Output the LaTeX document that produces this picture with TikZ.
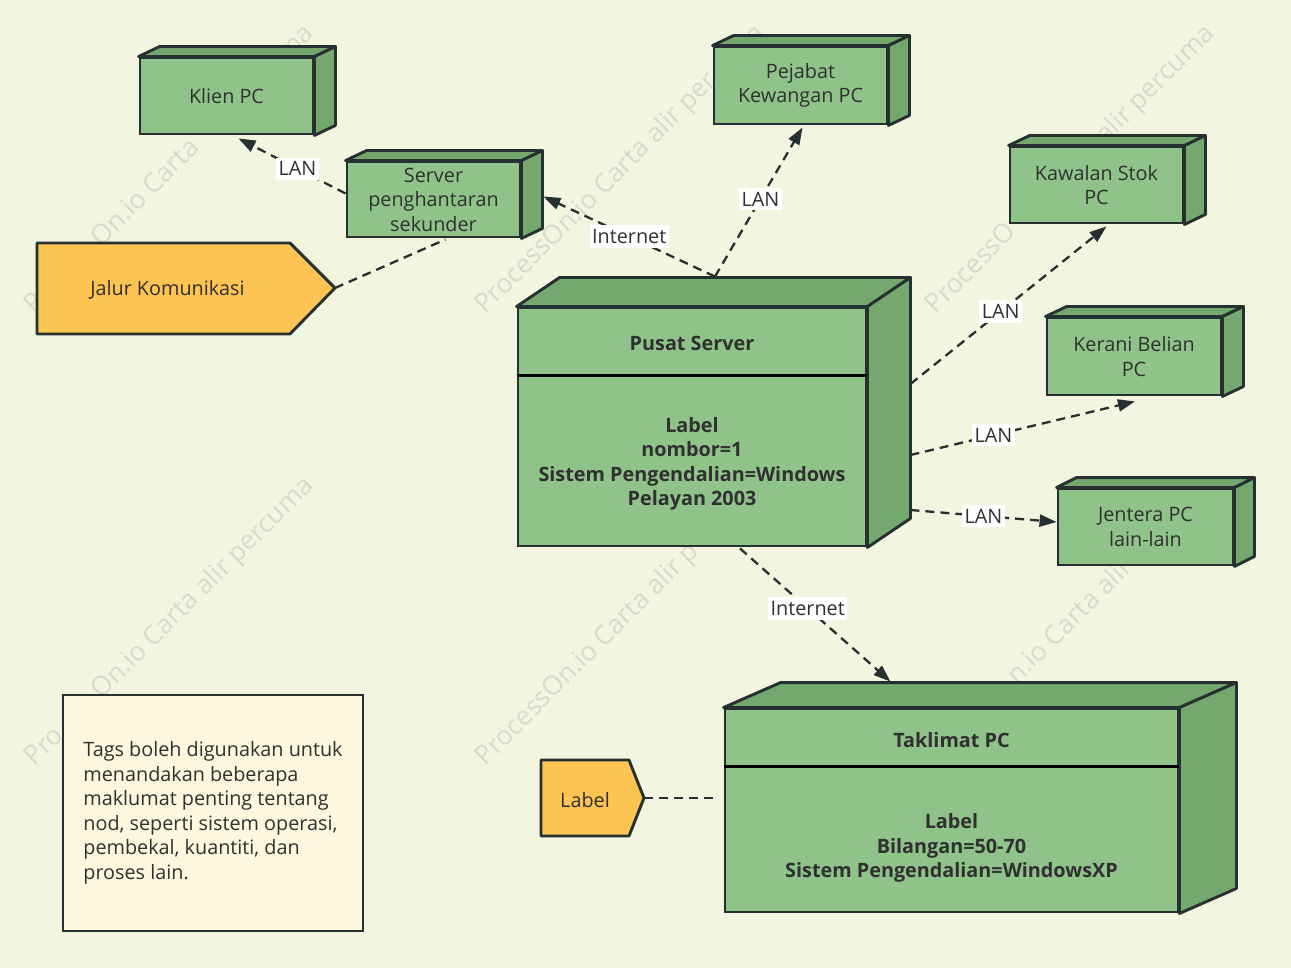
\documentclass[tikz,border=0pt]{standalone}
\usepackage{fontspec}
\setmainfont{Open Sans}
\usetikzlibrary{arrows.meta,calc}
\definecolor{bg}{RGB}{242,245,223}
\definecolor{gfront}{RGB}{143,195,137}
\definecolor{gside}{RGB}{116,168,110}
\definecolor{stroke}{RGB}{38,48,48}
\definecolor{txt}{RGB}{48,48,48}
\definecolor{tagfill}{RGB}{253,196,84}
\definecolor{notefill}{RGB}{253,248,221}
\definecolor{wm}{RGB}{216,218,206}
\newcommand\fs{\fontsize{9.9}{12.25}\selectfont}
\newcommand\cubeside[3]{%
  \filldraw[side] (#1.north west) -- ++(#2,#3) -- ($(#1.north east)+(#2,#3)$) -- (#1.north east) -- cycle;
  \filldraw[side] (#1.north east) -- ++(#2,#3) -- ($(#1.south east)+(#2,#3)$) -- (#1.south east) -- cycle;}
\tikzset{
  box/.style={draw=stroke, fill=gfront, line width=1.45pt, inner sep=0pt, align=center, font=\fs, text=txt},
  side/.style={draw=stroke, fill=gside, line width=1.45pt, line join=round},
  conn/.style={draw=stroke, line width=1.15pt, dash pattern=on 4.5pt off 3pt},
  arr/.style={-{Triangle[length=8.5pt,width=6pt]}},
  elab/.style={fill=white, inner xsep=1.2pt, inner ysep=2pt, font=\fs, text=txt},
  tagshape/.style={draw=stroke, fill=tagfill, line width=1.45pt, line join=round},
  wmark/.style={rotate=45, text=wm, font=\fontsize{13.2}{15}\selectfont},
  bodytext/.style={align=center, font=\fs\bfseries, text=txt, inner sep=0pt},
}
\begin{document}
\begin{tikzpicture}[x=0.5pt,y=-0.5pt]
\useasboundingbox (0,0) rectangle (1291,968);
\fill[bg] (0,0) rectangle (1291,968);
\clip (0,0) rectangle (1291,968);
% watermarks (parts hidden behind shapes are left out)
\node[wmark] (wmA) at (170,170) {P\phantom{rocess}On.io Carta \phantom{alir perc}uma};
\node[wmark] (wmB) at (621,170) {ProcessOn.io Carta alir per\phantom{cum}a};
\node[wmark] (wmC) at (1071,170) {ProcessO\phantom{n.io Carta }alir percuma};
\node[wmark] (wmD) at (170,622) {Pro\phantom{cess}On.io Carta alir percuma};
\node[wmark] (wmE) at (621,622) {ProcessOn.io Carta alir p\phantom{ercuma}};
\node[wmark] (wmF) at (1071,622) {\phantom{ProcessO}n.io Carta alir\phantom{ percuma}};
% small boxes
\node[box, minimum width=86.5pt, minimum height=38pt] (klien) at (226.5,96) {Klien PC};
\cubeside{klien}{21}{-10}
\node[box, minimum width=86.5pt, minimum height=37.5pt] (srv) at (433.5,199.5) {Server\\penghantaran\\sekunder};
\cubeside{srv}{21}{-10}
\node[box, minimum width=86.5pt, minimum height=38.5pt] (pej) at (800.5,85.5) {Pejabat\\Kewangan PC};
\cubeside{pej}{21}{-10}
\node[box, minimum width=86.5pt, minimum height=38pt] (kaw) at (1096.5,185) {Kawalan Stok\\PC};
\cubeside{kaw}{21}{-10}
\node[box, minimum width=87pt, minimum height=38.5pt] (ker) at (1134,356.5) {Kerani Belian\\PC};
\cubeside{ker}{21}{-10}
\node[box, minimum width=87.5pt, minimum height=38pt] (jen) at (1145.5,527) {Jentera PC\\lain-lain};
\cubeside{jen}{20}{-10}
% Pusat Server
\node[box, minimum width=174pt, minimum height=119pt] (pusat) at (692,427) {};
\cubeside{pusat}{43}{-29}
\draw[stroke, line width=1.45pt] ($(pusat.north west)+(0,69)$) -- ($(pusat.north east)+(0,69)$);
\node[bodytext] (pusatT) at (692,343) {Pusat Server};
\node[bodytext] (pusatB) at (692,464) {Label\\nombor=1\\Sistem Pengendalian=Windows\\Pelayan 2003};
% Taklimat PC
\node[box, minimum width=226.5pt, minimum height=101.5pt] (tak) at (951.5,810.5) {};
\cubeside{tak}{57}{-25}
\draw[stroke, line width=1.45pt] ($(tak.north west)+(0,59)$) -- ($(tak.north east)+(0,59)$);
\node[bodytext] (takT) at (951.5,740) {Taklimat PC};
\node[bodytext] (takB) at (951.5,848) {Label\\Bilangan=50-70\\Sistem Pengendalian=WindowsXP};
% tags
\filldraw[tagshape] (37,243) -- (290,243) -- (335,288) -- (290,334) -- (37,334) -- cycle;
\node[font=\fs, text=txt, inner sep=0pt] (jalur) at (167.5,290) {Jalur Komunikasi};
\coordinate (jalurtip) at (335,288);
\filldraw[tagshape] (541,760) -- (629,760) -- (644,798) -- (629,836) -- (541,836) -- cycle;
\node[font=\fs, text=txt, inner sep=0pt] (lbl) at (585,800) {Label};
\coordinate (lbltip) at (644,798);
% note
\node[draw=stroke, fill=notefill, line width=1.45pt, minimum width=150pt, minimum height=118pt, align=left, font=\fs, text=txt, inner sep=0pt] (note) at (213,813)
  {Tags boleh digunakan untuk\\menandakan beberapa\\maklumat penting tentang\\nod, seperti sistem operasi,\\pembekal, kuantiti, dan\\proses lain.};
% connectors
\draw[conn, arr] ($(srv.west)+(0,-6)$) -- node[elab, pos=0.45] {LAN} ($(klien.south)+(12,3)$);
\draw[conn, arr] ($(pusat.north)+(23,-30)$) -- node[elab, pos=0.5] {Internet} ($(srv.east)+(22,-3)$);
\draw[conn, arr] ($(pusat.north)+(23,-30)$) -- node[elab, pos=0.52] {LAN} ($(pej.south)+(2,2)$);
\draw[conn, arr] ($(pusat.east)+(43,-43)$) -- node[elab, pos=0.46] {LAN} ($(kaw.south)+(10,2)$);
\draw[conn, arr] ($(pusat.east)+(43,28)$) -- node[elab, pos=0.37] {LAN} ($(ker.south)+(1,5)$);
\draw[conn, arr] ($(pusat.east)+(43,83)$) -- node[elab, pos=0.5] {LAN} ($(jen.west)+(0,-5)$);
\draw[conn, arr] ($(pusat.south)+(48,1)$) -- node[elab, pos=0.45] {Internet} ($(tak.north)+(-61,-26)$);
\draw[conn] (jalurtip) -- ($(srv.south)+(12,1)$);
\draw[conn] (lbltip) -- ($(tak.west)+(-5,-12.5)$);
\end{tikzpicture}
\end{document}
